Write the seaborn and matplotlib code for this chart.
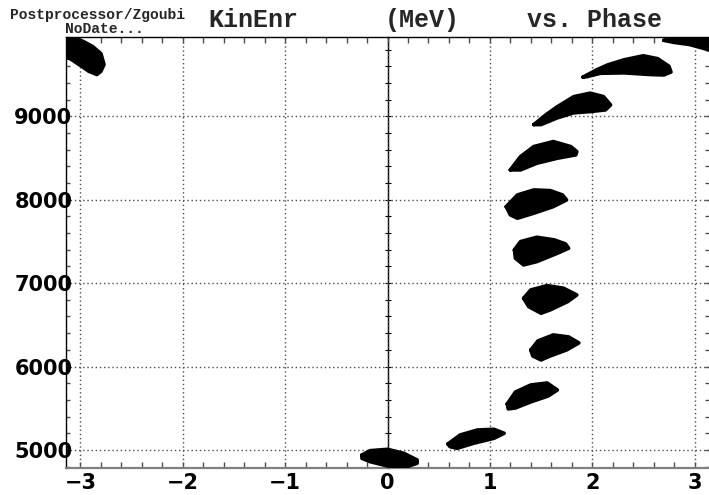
import numpy as np
import pandas as pd
import matplotlib
matplotlib.use("Agg")
import matplotlib.pyplot as plt
from matplotlib.ticker import MultipleLocator
import seaborn as sns

# Bunch outlines: phase (rad) and kinetic energy (MeV)
phase_top_left = [-3.20, -3.07, -2.97, -2.88, -2.80, -2.77, -2.80, -2.84, -2.92, -2.99, -3.10, -3.20]
kin_top_left = [9960, 9945, 9895, 9835, 9750, 9620, 9540, 9500, 9540, 9600, 9690, 9720]

phase_top_right = [2.70, 2.85, 3.00, 3.20, 3.20, 3.10, 2.95, 2.80]
kin_top_right = [9910, 9935, 9950, 9960, 9770, 9810, 9860, 9885]

phase_9600 = [1.91, 2.05, 2.15, 2.31, 2.50, 2.64, 2.75, 2.77, 2.70, 2.57, 2.31, 2.08, 1.95]
kin_9600 = [9470, 9560, 9615, 9676, 9725, 9690, 9600, 9530, 9495, 9500, 9520, 9515, 9475]

phase_9100 = [1.43, 1.55, 1.66, 1.82, 1.98, 2.11, 2.18, 2.13, 1.98, 1.82, 1.66, 1.50]
kin_9100 = [8900, 9020, 9115, 9235, 9277, 9236, 9136, 9076, 9056, 9041, 8981, 8900]

phase_8500 = [1.20, 1.30, 1.43, 1.62, 1.79, 1.85, 1.84, 1.66, 1.46, 1.30]
kin_8500 = [8357, 8517, 8637, 8697, 8637, 8577, 8537, 8497, 8437, 8357]

phase_7950 = [1.16, 1.27, 1.43, 1.59, 1.71, 1.75, 1.62, 1.43, 1.27, 1.20]
kin_7950 = [7917, 8057, 8117, 8109, 8057, 7997, 7917, 7838, 7778, 7818]

phase_7400 = [1.24, 1.30, 1.46, 1.63, 1.74, 1.77, 1.66, 1.46, 1.33, 1.25]
kin_7400 = [7398, 7498, 7550, 7518, 7470, 7418, 7358, 7258, 7218, 7298]

phase_6800 = [1.33, 1.40, 1.56, 1.72, 1.85, 1.76, 1.59, 1.50, 1.38]
kin_6800 = [6819, 6918, 6970, 6939, 6858, 6778, 6679, 6639, 6718]

phase_6250 = [1.40, 1.47, 1.62, 1.77, 1.87, 1.75, 1.59, 1.50, 1.42]
kin_6250 = [6199, 6307, 6379, 6355, 6283, 6199, 6127, 6079, 6127]

phase_5650 = [1.17, 1.25, 1.40, 1.56, 1.66, 1.57, 1.40, 1.25, 1.18]
kin_5650 = [5552, 5695, 5779, 5803, 5719, 5647, 5576, 5504, 5492]

phase_5150 = [0.59, 0.71, 0.88, 1.04, 1.14, 1.04, 0.84, 0.68, 0.61]
kin_5150 = [5072, 5180, 5240, 5248, 5200, 5140, 5080, 5020, 5040]

phase_4900 = [-0.25, -0.17, 0.00, 0.16, 0.29, 0.29, 0.19, 0.00, -0.17, -0.25]
kin_4900 = [4940, 4992, 5008, 4960, 4880, 4841, 4800, 4808, 4860, 4900]

bunches = {
    "top_left": (phase_top_left, kin_top_left),
    "top_right": (phase_top_right, kin_top_right),
    "b9600": (phase_9600, kin_9600),
    "b9100": (phase_9100, kin_9100),
    "b8500": (phase_8500, kin_8500),
    "b7950": (phase_7950, kin_7950),
    "b7400": (phase_7400, kin_7400),
    "b6800": (phase_6800, kin_6800),
    "b6250": (phase_6250, kin_6250),
    "b5650": (phase_5650, kin_5650),
    "b5150": (phase_5150, kin_5150),
    "b4900": (phase_4900, kin_4900),
}

# title pieces: (text, left edge in px)
title_parts = [("KinEnr", 208), ("(MeV)", 385), ("vs. Phase", 527)]

rows = []
for name, (ph, ke) in bunches.items():
    # close the outline
    for p, k in zip(ph + ph[:1], ke + ke[:1]):
        rows.append({"bunch": name, "phase": p, "kinenr": k})
df = pd.DataFrame(rows)

sns.set_style("white")
plt.rcParams["font.family"] = ["DejaVu Sans"]

fig = plt.figure(figsize=(7.09, 4.95), dpi=100)
ax = fig.add_axes([66 / 709, (495 - 467.5) / 495, 1 - 66 / 709, (467.5 - 37) / 495])

for name, g in df.groupby("bunch", sort=False):
    ax.fill(g["phase"], g["kinenr"], color="black", lw=0, zorder=3)
sns.lineplot(data=df, x="phase", y="kinenr", units="bunch", estimator=None,
             sort=False, color="black", lw=2.6, ax=ax, zorder=3, legend=False,
             solid_joinstyle="round", solid_capstyle="round")

ax.set_xlim(-np.pi, np.pi)
ax.set_ylim(4790, 9950)
ax.set_xlabel("")
ax.set_ylabel("")

ax.xaxis.set_major_locator(MultipleLocator(1))
ax.xaxis.set_minor_locator(MultipleLocator(0.2))
ax.yaxis.set_major_locator(MultipleLocator(1000))
ax.yaxis.set_minor_locator(MultipleLocator(200))

ax.grid(True, which="major", color="0.3", linestyle=(0, (1, 2)), linewidth=1)
ax.set_axisbelow(True)

ax.tick_params(axis="x", which="both", direction="in", top=True, bottom=True,
               length=4, width=1, color="0.3", pad=4)
ax.tick_params(axis="y", which="both", direction="in", left=True, right=True,
               length=3, width=1, color="0.3", pad=-4.5)
for lab in ax.get_xticklabels() + ax.get_yticklabels():
    lab.set_fontsize(15)
    lab.set_fontweight("bold")
    lab.set_color("black")

ax.spines["left"].set_color("black")
ax.spines["left"].set_linewidth(1)
ax.spines["top"].set_color("black")
ax.spines["top"].set_linewidth(1)
ax.spines["bottom"].set_color("0.5")
ax.spines["bottom"].set_linewidth(1.6)
ax.spines["right"].set_visible(False)
for side in ["left", "top", "bottom"]:
    ax.spines[side].set_visible(True)

# vertical axis line through phase = 0
sec = ax.secondary_yaxis(0.5)
sec.yaxis.set_major_locator(MultipleLocator(200))
sec.tick_params(axis="y", which="both", direction="inout", length=5, width=0.8,
                color="black", labelright=False, labelleft=False)
sec.spines["right"].set_color("black")
sec.spines["right"].set_linewidth(1)

mono = ["Liberation Mono", "DejaVu Sans Mono"]
for txt, px in title_parts:
    fig.text(px / 709, (495 - 27) / 495, txt, family=mono, fontsize=18,
             fontweight="bold", va="baseline", ha="left")
fig.text(10 / 709, (495 - 19) / 495, "Postprocessor/Zgoubi",
         family=mono, fontsize=10.5, fontweight="bold", va="baseline", ha="left")
fig.text(65 / 709, (495 - 33) / 495, "NoDate...",
         family=mono, fontsize=10.5, fontweight="bold", va="baseline", ha="left")

fig.savefig("out.png", dpi=100)
